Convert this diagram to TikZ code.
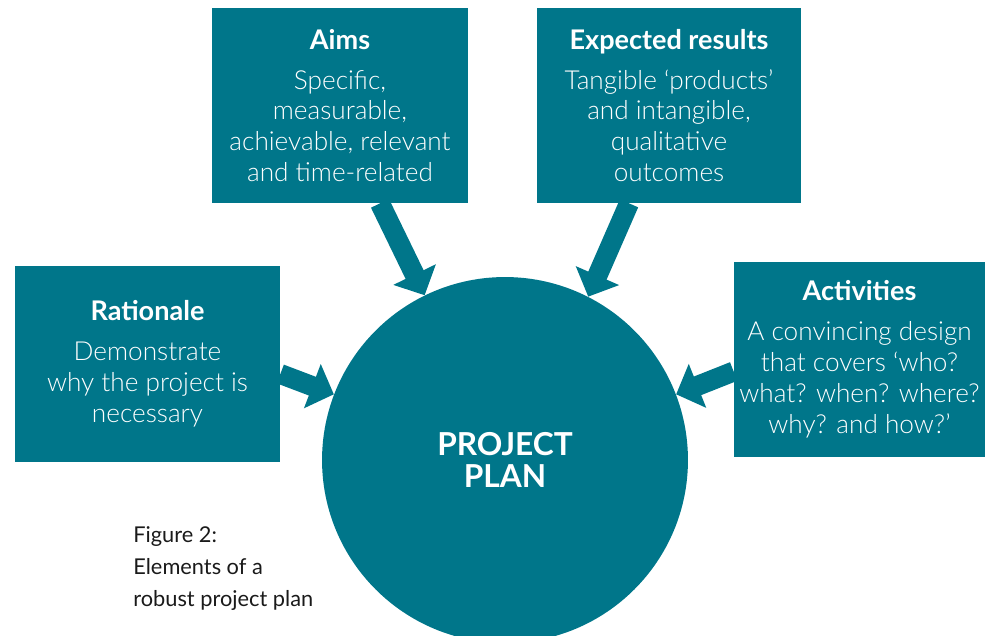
\documentclass[tikz,border=0pt]{standalone}
\usepackage{fontspec}
\setmainfont{Lato}[UprightFont={* Light}, BoldFont={* Bold}]
\newfontfamily\captionfont{Lato}
\usetikzlibrary{arrows.meta, positioning}
\definecolor{plancolor}{HTML}{00768A}
\definecolor{captioncolor}{HTML}{1A1A1A}
\newcommand{\boxtitle}[1]{{\fontsize{15.4}{17.6}\selectfont\textbf{#1}}}

\begin{document}
\begin{tikzpicture}[x=0.02cm, y=-0.02cm,
  box/.style={fill=plancolor, text=white, align=center, inner sep=0pt,
    font=\fontsize{14.9}{17.6}\selectfont},
  bigarrow/.style={draw=plancolor, line width=0.4cm,
    -{Triangle[width=0.92cm, length=0.46cm]}}]
  \useasboundingbox (0,0) rectangle (985,636);

  % Kruh
  \node[circle, fill=plancolor, minimum size=7.32cm, text=white, align=center,
    font=\fontsize{18}{17.8}\bfseries\selectfont] (plan) at (505,460) {PROJECT\\PLAN};

  % Boxy
  \node[box, minimum width=5.12cm, minimum height=3.9cm] (aims) at (340,105.5)
    {\boxtitle{Aims}\\[0.18cm] Specific,\\ measurable,\\ achievable, relevant\\ and time-related};
  \node[box, minimum width=5.28cm, minimum height=3.9cm] (results) at (669,105.5)
    {\boxtitle{Expected results}\\[0.18cm] Tangible ‘products’\\ and intangible,\\ qualitative\\ outcomes};
  \node[box, minimum width=5.3cm, minimum height=3.92cm] (rationale) at (147.5,364)
    {\boxtitle{Rationale}\\[0.18cm] Demonstrate\\ why the project is\\ necessary};
  \node[box, minimum width=5.02cm, minimum height=3.9cm] (activities) at (859.5,359.5)
    {\boxtitle{Activities}\\[0.18cm] A convincing design\\ that covers ‘who?\\ what? when? where?\\ why? and how?’};

  % Sipky
  \draw[bigarrow] ([xshift=0.8cm]aims.south) -- (plan.116.7);
  \draw[bigarrow] ([xshift=-0.8cm]results.south) -- (plan.63.9);
  \draw[bigarrow] ([yshift=-0.2cm]rationale.east) -- (plan.159.2);
  \draw[bigarrow] ([yshift=-0.24cm]activities.west) -- (plan.21.5);

  % Popisek
  \node[anchor=north west, align=left, text=captioncolor, inner sep=0pt,
    font=\captionfont\fontsize{12.4}{18.2}\selectfont] (caption) at (133,526)
    {Figure 2:\\ Elements of a\\ robust project plan};
\end{tikzpicture}
\end{document}
